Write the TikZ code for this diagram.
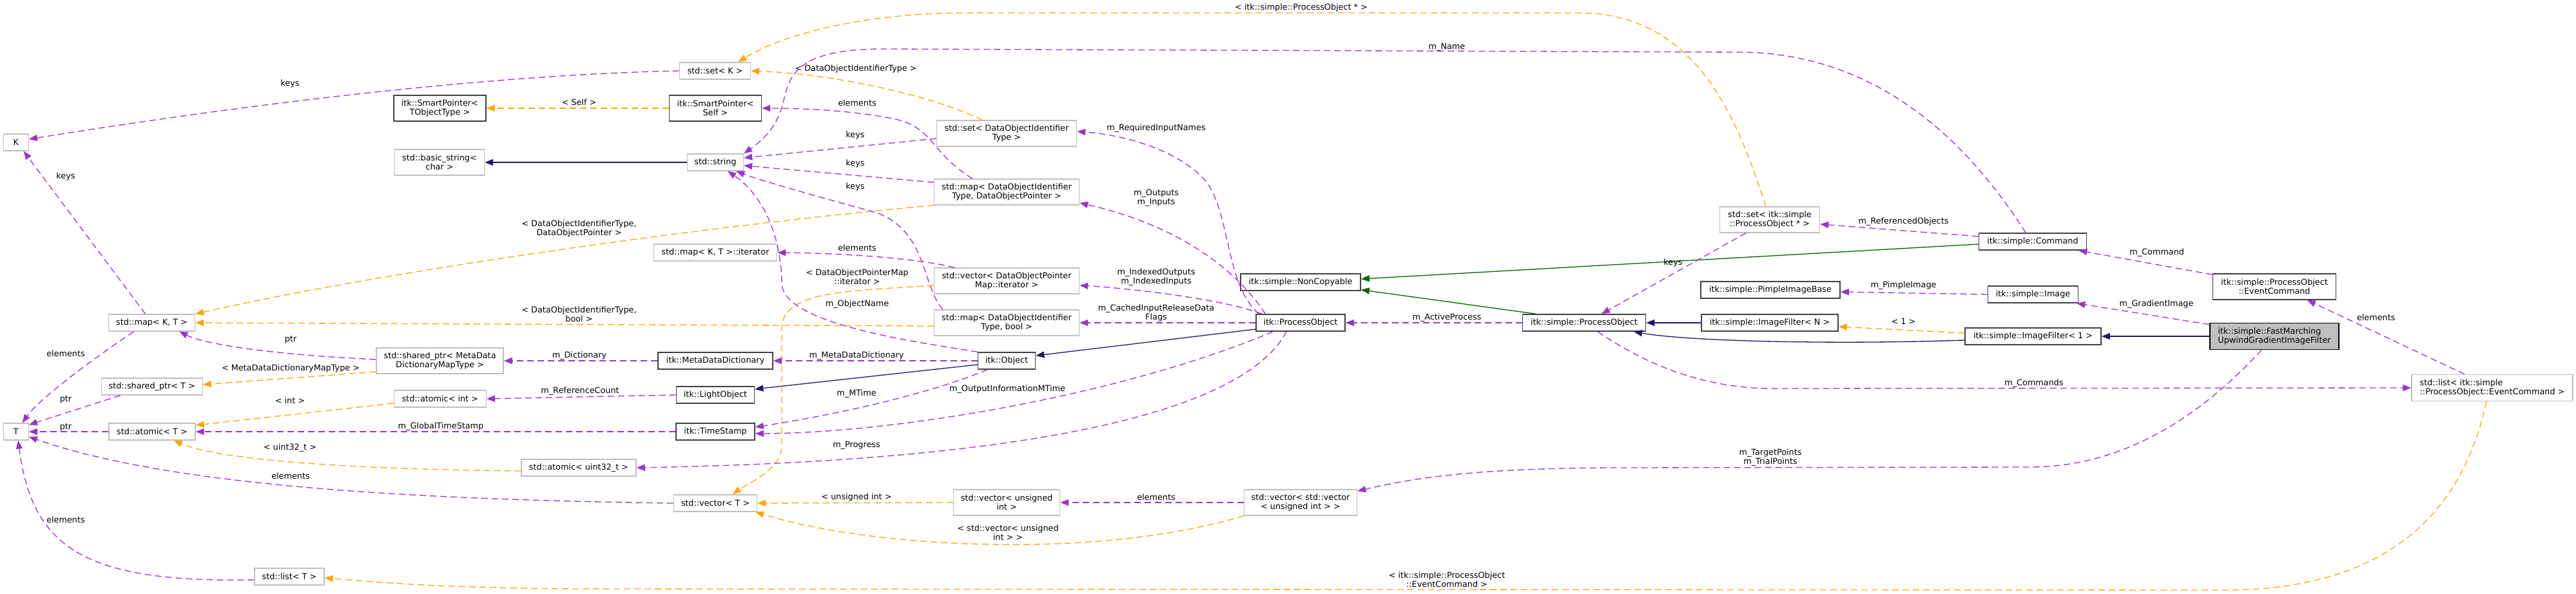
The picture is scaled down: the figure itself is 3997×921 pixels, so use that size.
\documentclass[tikz,border=0pt]{standalone}
\usepackage{fontspec}
\setmainfont{DejaVu Sans}
\usetikzlibrary{arrows.meta}
\definecolor{pur}{HTML}{9A32CD}
\definecolor{org}{HTML}{FFA500}
\definecolor{nav}{HTML}{191970}
\definecolor{grn}{HTML}{006400}
\definecolor{gbord}{HTML}{BFBFBF}
\definecolor{dbord}{HTML}{404040}
\newcommand\fsz{\fontsize{12.8pt}{14pt}\selectfont}
\begin{document}
\begin{tikzpicture}[x=1pt,y=-1pt,
  basebox/.style={inner sep=0pt, align=center, font=\fsz, fill=white},
  gbox/.style={basebox, draw=gbord, line width=1.4pt},
  dbox/.style={basebox, draw=dbord, line width=1.6pt},
  mbox/.style={basebox, draw=black, fill=gbord, line width=1.6pt},
  lbl/.style={inner sep=0pt, align=center, font=\fsz},
  arrtip/.style={-{Triangle[length=13pt,width=10pt]}},
  pedge/.style={arrtip, draw=pur, fill=none, line width=1.3pt, dash pattern=on 10pt off 6pt},
  oedge/.style={arrtip, draw=org, fill=none, line width=1.3pt, dash pattern=on 10pt off 6pt},
  nedge/.style={arrtip, draw=nav, line width=1.3pt},
  gedge/.style={arrtip, draw=grn, line width=1.3pt}]
\useasboundingbox (0,0) rectangle (3997,921);
% ---------- nodes ----------
\node[gbox, minimum width=39pt, minimum height=26pt] (K) at (24.7,221) {K};
\node[gbox, minimum width=39pt, minimum height=26pt] (T) at (24.7,670) {T};
\node[gbox, minimum width=134pt, minimum height=26pt] (mapKT) at (235.5,501) {std::map< K, T >};
\node[gbox, minimum width=157pt, minimum height=26pt] (sharedT) at (235.7,600) {std::shared\_ptr< T >};
\node[gbox, minimum width=134pt, minimum height=26pt] (atomicT) at (236,670) {std::atomic< T >};
\node[gbox, minimum width=108pt, minimum height=26pt] (listT) at (449,895) {std::list< T >};
\node[dbox, minimum width=143pt, minimum height=40pt] (spTObj) at (682.4,168) {itk::SmartPointer<\\TObjectType >};
\node[gbox, minimum width=139pt, minimum height=40pt] (basicStr) at (682,252) {std::basic\_string<\\char >};
\node[gbox, minimum width=110pt, minimum height=26pt] (setK) at (1109.5,110) {std::set< K >};
\node[dbox, minimum width=143pt, minimum height=40pt] (spSelf) at (1110,168) {itk::SmartPointer<\\Self >};
\node[gbox, minimum width=87pt, minimum height=26pt] (str) at (1110,252) {std::string};
\node[gbox, minimum width=191pt, minimum height=26pt] (mapIter) at (1110,392) {std::map< K, T >::iterator};
\node[gbox, minimum width=217pt, minimum height=40pt] (setDOI) at (1562,207) {std::set< DataObjectIdentifier\\Type >};
\node[gbox, minimum width=225pt, minimum height=40pt] (mapDOPtr) at (1562,298) {std::map< DataObjectIdentifier\\Type, DataObjectPointer >};
\node[gbox, minimum width=225pt, minimum height=40pt] (vecIter) at (1562,436) {std::vector< DataObjectPointer\\Map::iterator >};
\node[gbox, minimum width=225pt, minimum height=40pt] (mapDObool) at (1562,501) {std::map< DataObjectIdentifier\\Type, bool >};
\node[dbox, minimum width=89pt, minimum height=26pt] (object) at (1562,560) {itk::Object};
\node[dbox, minimum width=178pt, minimum height=26pt] (mdd) at (1110,560) {itk::MetaDataDictionary};
\node[gbox, minimum width=197pt, minimum height=40pt] (sharedMD) at (682.6,560) {std::shared\_ptr< MetaData\\DictionaryMapType >};
\node[gbox, minimum width=143pt, minimum height=26pt] (atomicInt) at (682.8,619) {std::atomic< int >};
\node[dbox, minimum width=121pt, minimum height=26pt] (light) at (1110,613) {itk::LightObject};
\node[dbox, minimum width=122pt, minimum height=26pt] (tstamp) at (1110,670) {itk::TimeStamp};
\node[gbox, minimum width=178pt, minimum height=26pt] (atomicU) at (898,726) {std::atomic< uint32\_t >};
\node[gbox, minimum width=129pt, minimum height=26pt] (vecT) at (1110,781) {std::vector< T >};
\node[gbox, minimum width=165pt, minimum height=40pt] (vecUInt) at (1562,780) {std::vector< unsigned\\int >};
\node[gbox, minimum width=175pt, minimum height=40pt] (vecVec) at (2018,780) {std::vector< std::vector\\< unsigned int > >};
\node[dbox, minimum width=138pt, minimum height=26pt] (po) at (2018,501) {itk::ProcessObject};
\node[dbox, minimum width=186pt, minimum height=26pt] (nonCopy) at (2018,438) {itk::simple::NonCopyable};
\node[dbox, minimum width=191pt, minimum height=26pt] (spo) at (2458,501) {itk::simple::ProcessObject};
\node[gbox, minimum width=155pt, minimum height=40pt] (setSPO) at (2746,341) {std::set< itk::simple\\::ProcessObject * >};
\node[dbox, minimum width=167pt, minimum height=26pt] (cmd) at (3154,375) {itk::simple::Command};
\node[dbox, minimum width=216pt, minimum height=26pt] (pimple) at (2747,450) {itk::simple::PimpleImageBase};
\node[dbox, minimum width=140pt, minimum height=26pt] (image) at (3154.5,457) {itk::simple::Image};
\node[dbox, minimum width=212pt, minimum height=26pt] (ifN) at (2746,501) {itk::simple::ImageFilter< N >};
\node[dbox, minimum width=211pt, minimum height=26pt] (if1) at (3154.6,522) {itk::simple::ImageFilter< 1 >};
\node[dbox, minimum width=191pt, minimum height=40pt] (evcmd) at (3529,445) {itk::simple::ProcessObject\\::EventCommand};
\node[mbox, minimum width=200pt, minimum height=41pt, align=left] (fm) at (3529,522) {itk::simple::FastMarching\\UpwindGradientImageFilter};
\node[gbox, minimum width=250pt, minimum height=41pt, align=left] (listEC) at (3867,602) {std::list< itk::simple\\::ProcessObject::EventCommand >};
% ---------- edges ----------
\draw[pedge] (setK.west) .. controls (850,114) and (520,140) .. ([yshift=5pt]K.east);
\draw[pedge] ([xshift=-10pt]mapKT.north) -- ([xshift=12pt]K.south);
\draw[pedge] ([xshift=-28pt]mapKT.south) .. controls (140,560) and (60,620) .. ([xshift=10pt]T.north);
\draw[pedge] ([xshift=-49pt]sharedT.south) -- ([yshift=-3pt]T.north east);
\draw[pedge] (atomicT.west) -- (T.east);
\draw[pedge] (vecT.west) .. controls (600,775) and (250,750) .. ([yshift=-8pt]T.east);
\draw[pedge] ([yshift=-5pt]listT.west) .. controls (130,905) and (50,850) .. ([xshift=3.5pt]T.south);
\draw[oedge] (mapDOPtr.south west) .. controls (1100,350) and (600,420) .. (mapKT.north east);
\draw[oedge] ([yshift=-5pt]mapDObool.west) -- (mapKT.east);
\draw[pedge] ([yshift=2pt]sharedMD.west) .. controls (420,550) and (320,535) .. ([xshift=-25pt]mapKT.south east);
\draw[oedge] ([yshift=-17pt]sharedMD.west) -- ([yshift=3pt]sharedT.east);
\draw[oedge] ([yshift=-7pt]atomicInt.west) -- ([yshift=10pt]atomicT.east);
\draw[pedge] (tstamp.west) -- (atomicT.east);
\draw[oedge] ([yshift=-5pt]atomicU.west) .. controls (500,728) and (330,710) .. ([xshift=-34pt]atomicT.south east);
\draw[oedge] (vecUInt.west) -- (vecT.east);
\draw[oedge] (vecVec.south west) .. controls (1700,870) and (1350,850) .. ([xshift=-3pt]vecT.south east);
\draw[pedge] (vecVec.west) -- (vecUInt.east);
\draw[oedge] ([yshift=-7pt]vecIter.west) .. controls (1320,452) and (1213,450) .. (1213,510) -- (1213,690) .. controls (1213,730) and (1160,750) .. ([xshift=27pt]vecT.north);
\draw[pedge] ([xshift=-81pt]vecIter.north) .. controls (1420,400) and (1300,393) .. (mapIter.east);
\draw[oedge] ([xshift=-38pt]setDOI.north) .. controls (1450,150) and (1300,115) .. (setK.east);
\draw[oedge] ([xshift=-6pt]setSPO.north) .. controls (2700,200) and (2640,20) .. (2450,20) -- (1500,20) .. controls (1350,20) and (1220,50) .. ([xshift=36pt]setK.north);
\draw[oedge] (spSelf.west) -- (spTObj.east);
\draw[nedge] (str.west) -- (basicStr.east);
\draw[pedge] ([yshift=-8pt]setDOI.west) -- ([yshift=7pt]str.east);
\draw[pedge] ([yshift=15pt]mapDOPtr.west) -- ([yshift=-5pt]str.east);
\draw[pedge] ([xshift=-99pt]mapDObool.north) .. controls (1430,445) and (1440,360) .. (1360,330) .. controls (1250,300) and (1180,280) .. ([xshift=-12pt]str.south east);
\draw[pedge] (object.north west) .. controls (1400,528) and (1215,500) .. (1213,440) .. controls (1212,360) and (1180,300) .. ([xshift=-25pt]str.south east);
\draw[pedge] ([xshift=-53pt]mapDOPtr.north) .. controls (1440,235) and (1450,195) .. (1380,183) .. controls (1320,172) and (1250,168) .. (spSelf.east);
\draw[pedge] ([xshift=-11pt]cmd.north) .. controls (3060,230) and (2920,82) .. (2700,81) -- (1380,76) .. controls (1230,74) and (1225,120) .. (1215,160) .. controls (1205,200) and (1180,220) .. (str.north east);
\draw[pedge] (object.west) -- (mdd.east);
\draw[pedge] (mdd.west) -- (sharedMD.east);
\draw[pedge] (light.west) -- (atomicInt.east);
\draw[nedge] ([yshift=-6pt]object.west) -- ([yshift=9pt]light.east);
\draw[pedge] ([xshift=-30pt]object.south) .. controls (1470,600) and (1350,635) .. ([yshift=7pt]tstamp.east);
\draw[pedge] ([xshift=-43pt]po.south) .. controls (1750,610) and (1400,672) .. ([yshift=-3pt]tstamp.east);
\draw[pedge] ([xshift=-22pt]po.south) .. controls (1930,640) and (1600,715) .. (atomicU.east);
\draw[nedge] ([yshift=-10pt]po.west) -- ([yshift=8pt]object.east);
\draw[pedge] (po.west) -- (mapDObool.east);
\draw[pedge] ([xshift=10pt]po.north west) .. controls (1900,465) and (1760,448) .. ([yshift=-7pt]vecIter.east);
\draw[pedge] ([xshift=15pt]po.north west) .. controls (1920,420) and (1830,350) .. ([yshift=-17pt]mapDOPtr.east);
\draw[pedge] ([xshift=5pt]po.north west) .. controls (1900,440) and (1910,330) .. (1870,280) .. controls (1830,235) and (1750,210) .. ([yshift=3pt]setDOI.east);
\draw[pedge] (spo.west) -- (po.east);
\draw[gedge] ([xshift=-75pt]spo.north) -- ([yshift=2pt]nonCopy.south east);
\draw[gedge] ([yshift=-4pt]cmd.west) -- ([yshift=5pt]nonCopy.east);
\draw[pedge] ([xshift=-37pt]setSPO.south) -- ([xshift=27pt]spo.north);
\draw[pedge] ([yshift=8pt]cmd.west) -- ([yshift=-7pt]setSPO.east);
\draw[pedge] (image.west) -- ([yshift=-3pt]pimple.east);
\draw[oedge] ([yshift=5pt]if1.west) -- ([yshift=-6pt]ifN.east);
\draw[nedge] ([yshift=-6pt]if1.west) .. controls (2850,535) and (2620,530) .. ([xshift=77pt]spo.south);
\draw[nedge] (ifN.west) -- (spo.east);
\draw[nedge] (fm.west) -- (if1.east);
\draw[pedge] ([yshift=-3pt]fm.north west) -- ([xshift=-3pt]image.south east);
\draw[pedge] ([yshift=-2pt]evcmd.north west) -- ([xshift=-13pt]cmd.south east);
\draw[pedge] ([xshift=-43pt]listEC.north) -- ([xshift=51pt]evcmd.south);
\draw[pedge] ([xshift=21pt]spo.south) .. controls (2560,570) and (2650,603) .. (2750,603) -- (listEC.west);
\draw[pedge] ([xshift=-20pt]fm.south) .. controls (3420,640) and (3300,725) .. (3150,725) -- (2500,726) .. controls (2300,727) and (2200,740) .. ([yshift=-3pt]vecVec.north east);
\draw[oedge] ([xshift=-9pt]listEC.south) .. controls (3820,800) and (3700,916) .. (3450,916) -- (900,914) .. controls (700,913) and (600,905) .. ([yshift=-2pt]listT.east);
% ---------- labels ----------
\node[lbl] (l1) at (450,130) {keys};
\node[lbl] (l2) at (102,274) {keys};
\node[lbl] (l3) at (102,549) {elements};
\node[lbl] (l4) at (102,620) {ptr};
\node[lbl] (l5) at (102,663) {ptr};
\node[lbl] (l6) at (451,739) {elements};
\node[lbl] (l7) at (102,807) {elements};
\node[lbl] (l8) at (898.5,355) {< DataObjectIdentifierType,\\DataObjectPointer >};
\node[lbl] (l9) at (898.5,488) {< DataObjectIdentifierType,\\bool >};
\node[lbl] (l10) at (451,527) {ptr};
\node[lbl] (l11) at (451,572) {< MetaDataDictionaryMapType >};
\node[lbl] (l12) at (450,622) {< int >};
\node[lbl] (l13) at (684,662) {m\_GlobalTimeStamp};
\node[lbl] (l14) at (450,695) {< uint32\_t >};
\node[lbl] (l15) at (1329,772) {< unsigned int >};
\node[lbl] (l16) at (1564,827) {< std::vector< unsigned\\int > >};
\node[lbl] (l17) at (1794,772) {elements};
\node[lbl] (l18) at (1330,430) {< DataObjectPointerMap\\::iterator >};
\node[lbl] (l19) at (1330,385) {elements};
\node[lbl] (l20) at (1328,107) {< DataObjectIdentifierType >};
\node[lbl] (l21) at (2019,12) {< itk::simple::ProcessObject * >};
\node[lbl] (l22) at (898.5,159) {< Self >};
\node[lbl] (l24) at (1327,210) {keys};
\node[lbl] (l25) at (1327,254) {keys};
\node[lbl] (l26) at (1327,290) {keys};
\node[lbl] (l27) at (1330,472) {m\_ObjectName};
\node[lbl] (l28) at (1330,160) {elements};
\node[lbl] (l29) at (2245,73) {m\_Name};
\node[lbl] (l30) at (1329,552) {m\_MetaDataDictionary};
\node[lbl] (l31) at (899,552) {m\_Dictionary};
\node[lbl] (l32) at (900,607) {m\_ReferenceCount};
\node[lbl] (l34) at (1329,611) {m\_MTime};
\node[lbl] (l35) at (1563,604) {m\_OutputInformationMTime};
\node[lbl] (l36) at (1329,691) {m\_Progress};
\node[lbl] (l38) at (1794,486) {m\_CachedInputReleaseData\\Flags};
\node[lbl] (l39) at (1794,430) {m\_IndexedOutputs\\m\_IndexedInputs};
\node[lbl] (l40) at (1794,307) {m\_Outputs\\m\_Inputs};
\node[lbl] (l41) at (1794,199) {m\_RequiredInputNames};
\node[lbl] (l42) at (2245,493) {m\_ActiveProcess};
\node[lbl] (l45) at (2596,408) {keys};
\node[lbl] (l46) at (2953.5,344) {m\_ReferencedObjects};
\node[lbl] (l47) at (2953.5,443) {m\_PimpleImage};
\node[lbl] (l48) at (2953.5,499) {< 1 >};
\node[lbl] (l52) at (3346,472) {m\_GradientImage};
\node[lbl] (l53) at (3346.7,392) {m\_Command};
\node[lbl] (l54) at (3686.7,493) {elements};
\node[lbl] (l55) at (3156,595) {m\_Commands};
\node[lbl] (l56) at (2747,710) {m\_TargetPoints\\m\_TrialPoints};
\node[lbl] (l57) at (2245,900) {< itk::simple::ProcessObject\\::EventCommand >};
\end{tikzpicture}
\end{document}
